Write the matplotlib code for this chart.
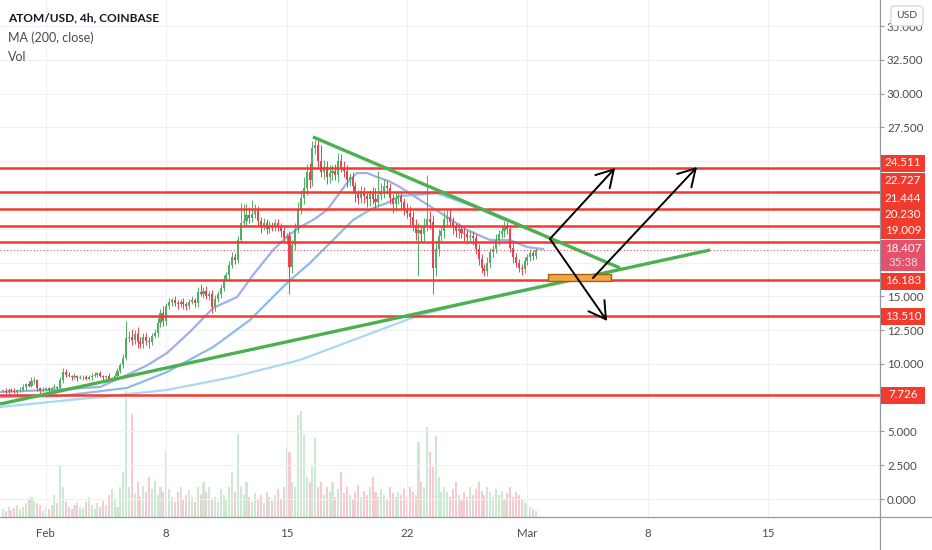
import numpy as np
import matplotlib
matplotlib.use("Agg")
import matplotlib.pyplot as plt
import matplotlib.transforms as mtransforms
from matplotlib.patches import Rectangle, FancyBboxPatch
from matplotlib.lines import Line2D

# ---------------- data ----------------
title = "ATOM/USD, 4h, COINBASE"
legend_lines = ["MA (200, close)", "Vol"]

first_open = 8.0
closes = [
    8.0, 7.9, 8.1, 8.0, 7.95, 8.05, 8.1,
    8.3, 8.5, 8.4, 8.7, 8.8,
    8.2, 8.0,
    8.1, 8.2, 8.1, 8.2, 8.3, 8.2,
    8.8, 9.4,
    9.2, 9.1, 9.0, 9.1, 8.95, 9.0, 9.05, 8.9, 9.0, 9.1,
    9.2, 9.3, 9.1,
    9.0, 9.1, 8.9, 8.9, 9.1,
    9.5, 9.9, 10.4,
    11.9, 12.0,
    11.8, 12.2, 11.6, 11.5, 12.0, 11.7, 11.6, 12.1, 12.3,
    13.0, 13.8, 13.2, 14.3, 14.6,
    14.7, 14.5, 14.4, 14.6, 14.4, 14.3, 14.6, 14.7, 14.5,
    15.3, 15.2, 15.4, 15.0, 15.2, 14.2,
    14.8, 15.2, 15.6,
    16.3, 16.6,
    17.3, 17.9, 17.7,
    19.2, 20.4, 20.6,
    21.0, 20.8, 21.1, 21.3,
    20.6, 20.2, 20.4, 20.0, 20.3, 20.1, 20.4, 20.2,
    19.8, 19.3, 19.5,
    17.2,
    18.8, 20.0, 21.5, 22.3,
    23.0, 24.2,
    23.6, 26.0, 26.2,
    25.0, 24.2, 24.6,
    23.8, 24.1, 24.3,
    24.0, 25.0, 24.6, 24.3,
    23.6, 23.8,
    23.2, 22.6, 22.3, 22.8,
    22.4, 22.2, 22.6, 22.2, 22.0, 22.5,
    22.8, 23.2, 23.0,
    22.3, 21.8,
    22.2, 22.4, 22.0,
    21.5, 21.2, 20.9,
    20.3, 19.7, 19.9,
    19.6, 20.2,
    20.7, 20.5,
    17.1,
    18.5, 19.5, 19.8,
    20.7, 20.9, 20.5,
    20.1, 19.8, 20.0, 19.7, 19.6, 19.4,
    19.5, 19.3,
    18.5, 17.8,
    17.1, 16.9,
    17.5, 18.3, 18.5,
    19.2, 19.6, 19.8,
    20.2, 20.0,
    18.6,
    17.9, 17.5,
    17.1, 17.0,
    17.6, 17.9,
    18.2, 18.0,
    18.407,
]
# wick lengths above / below the candle body, in tenths of a dollar
up_wick = [
    1, 2, 1, 1, 2, 1, 2, 2, 1, 2,
    3, 2, 1, 1, 2, 1, 1, 1, 2, 1,
    2, 3, 2, 2, 1, 2, 1, 2, 1, 1,
    2, 2, 2, 1, 2, 1, 1, 2, 1, 2,
    2, 2, 3, 13, 4, 6, 3, 5, 4, 3,
    3, 3, 2, 3, 4, 3, 5, 2, 3, 2,
    3, 2, 2, 3, 2, 2, 3, 2, 4, 6,
    3, 4, 2, 3, 3, 2, 3, 3, 2, 3,
    4, 3, 3, 15, 12, 8, 6, 10, 5, 4,
    3, 4, 3, 3, 2, 3, 3, 2, 3, 2,
    3, 4, 4, 5, 6, 8, 6, 7, 5, 4,
    6, 12, 5, 4, 6, 4, 5, 6, 5, 4,
    4, 3, 4, 3, 3, 4, 3, 4, 3, 5,
    8, 18, 6, 5, 4, 4, 3, 5, 4, 3,
    3, 4, 5, 4, 4, 5, 4, 6, 33, 6,
    5, 6, 5, 4, 6, 5, 6, 4, 3, 4,
    3, 4, 3, 4, 3, 3, 4, 3, 3, 4,
    3, 3, 4, 3, 3, 4, 3, 3, 4, 3,
    3, 3, 3, 2, 3, 2, 2,
]
down_wick = [
    1, 1, 2, 1, 1, 2, 1, 1, 2, 1,
    1, 2, 2, 2, 1, 1, 2, 1, 1, 2,
    1, 2, 2, 1, 2, 1, 2, 1, 2, 1,
    1, 2, 1, 2, 1, 2, 1, 2, 2, 1,
    1, 2, 2, 1, 3, 4, 3, 4, 3, 3,
    3, 4, 2, 2, 3, 3, 4, 3, 2, 3,
    2, 3, 2, 3, 3, 2, 2, 3, 3, 2,
    3, 2, 3, 4, 3, 2, 3, 2, 2, 3,
    2, 3, 2, 2, 3, 3, 4, 3, 3, 4,
    5, 3, 4, 3, 3, 3, 4, 4, 3, 4,
    20, 5, 4, 3, 4, 5, 5, 6, 4, 5,
    6, 4, 5, 5, 4, 5, 4, 5, 4, 5,
    5, 4, 4, 6, 5, 4, 5, 6, 5, 4,
    5, 4, 4, 5, 4, 5, 6, 5, 4, 5,
    5, 4, 6, 5, 5, 32, 6, 5, 4, 5,
    19, 6, 5, 4, 5, 5, 4, 5, 4, 5,
    4, 5, 5, 4, 5, 4, 5, 4, 4, 4,
    4, 4, 3, 4, 3, 4, 4, 3, 4, 3,
    3, 4, 3, 3, 3, 3, 2,
]
volumes = [
    8, 6, 10, 7, 9, 12, 8, 10, 14,
    18, 20, 16, 14, 12, 6, 9,
    8, 12, 22, 14, 52,
    30, 15, 10, 8, 12, 14, 10,
    9, 15, 20, 12, 8, 14, 10,
    16, 12, 22, 28, 18, 10, 30,
    45, 126, 30, 103, 24,
    35, 20, 31, 25, 40, 28, 36, 22, 30,
    25, 67, 28, 20, 15, 25, 30, 18, 22,
    27, 20, 15, 30, 22, 35, 25, 30, 18,
    20, 15, 28, 22, 18, 30, 45, 25, 83, 30, 22, 35,
    20, 15, 24, 18, 22, 14, 25, 20, 16, 22, 28, 18, 30, 70, 65,
    35, 30, 102, 106, 83, 40, 35, 50, 79, 30, 35,
    22, 30, 25, 35, 20, 28, 45, 24, 30, 22, 18, 25, 32, 20, 26, 22, 30,
    40, 25, 20, 28, 22, 18, 30, 24, 20, 25, 22,
    28, 20, 30, 25, 22, 75, 35, 30, 90, 65, 50, 81, 40, 25,
    30, 25, 20, 28, 35, 22, 18, 25, 20, 30, 22, 28, 35, 26,
    22, 30, 25, 20, 28, 22, 26, 18, 24, 30, 20, 25, 22, 18, 15, 12, 10, 8, 6,
]

# moving averages (day offset from Feb 1, price)
ma_fast_days = [-2.66, 0.24, 3.15, 4.72, 5.9, 7.05, 8.4, 9.73, 11.12, 12.05, 13.21, 14.0, 14.78,
                15.6, 16.35, 17.51, 18.09, 18.67, 19.26, 20.0, 20.59, 21.76, 23.33, 24.49,
                25.83, 26.99, 27.98, 28.91]
ma_fast_vals = [7.92, 8.07, 8.29, 9.18, 9.9, 10.81, 12.4, 14.14, 14.95, 16.58, 18.43, 19.4, 20.13,
                20.7, 21.39, 23.39, 24.13, 24.13, 23.83, 23.5, 23.09, 22.13, 20.87, 19.91,
                19.17, 19.17, 18.65, 18.50]
ma_mid_days = [-2.66, 0.83, 4.72, 7.05, 9.73, 11.87, 14.02, 15.36, 16.70, 17.86, 19.03,
               19.84, 20.59, 22.74, 24.66, 26.41, 28.73]
ma_mid_vals = [7.55, 7.62, 8.22, 9.40, 11.25, 13.25, 15.99, 17.47, 19.17, 20.65, 21.54,
               21.91, 22.43, 22.65, 21.76, 20.80, 19.69]
ma200_days = [-2.66, 3.15, 7.05, 10.88, 14.78, 19.42, 21.76, 24.66, 28.56]
ma200_vals = [6.81, 7.55, 8.07, 9.03, 10.29, 12.51, 13.62, 14.58, 15.62]

level_values = [24.511, 22.727, 21.444, 20.230, 19.009, 16.183, 13.510, 7.726]
last_price = 18.407
countdown = "35:38"

desc_line_days = [15.53, 33.38]
desc_line_vals = [26.80, 17.10]
rise_line_days = [-2.66, 38.62]
rise_line_vals = [7.03, 18.43]

zone_days = [29.20, 32.86]
zone_vals = [16.14, 16.65]

arrow_from_days = [29.31, 29.31, 31.81]
arrow_from_vals = [19.25, 19.25, 16.36]
arrow_to_days = [33.10, 32.63, 37.86]
arrow_to_vals = [24.50, 13.18, 24.57]

date_tick_days = [0, 7, 14, 21, 28, 35, 42]
date_tick_labels = ["Feb", "8", "15", "22", "Mar", "8", "15"]
price_ticks = [0.0, 2.5, 5.0, 7.5, 10.0, 12.5, 15.0, 17.5, 20.0, 22.5, 25.0, 27.5, 30.0, 32.5, 35.0]
# tick labels hidden behind the price-label boxes on the scale
hidden_tick_labels = [7.5, 17.5, 20.0, 22.5, 25.0]

# ---------------- figure ----------------
plt.rcParams['font.family'] = ['Lato', 'DejaVu Sans']
W, H, DPI = 932, 550, 100
fig = plt.figure(figsize=(W / DPI, H / DPI), dpi=DPI)
fig.patch.set_facecolor("white")

AX_RIGHT = 880
AX_BOTTOM = 517
rect = [0, (H - AX_BOTTOM) / H, AX_RIGHT / W, AX_BOTTOM / H]
XLIM = (-2.663, 48.50)
YLIM = (-1.332, 36.935)

UP = "#4cb163"
DOWN = "#e8414f"
RED = "#f23b2f"
GREEN = "#4caf50"

# volume axes (behind)
axv = fig.add_axes(rect, zorder=0)
axv.set_xlim(*XLIM)
axv.set_ylim(0, AX_BOTTOM)
axv.axis("off")

ax = fig.add_axes(rect, zorder=1)
ax.set_facecolor("none")
ax.set_xlim(*XLIM)
ax.set_ylim(*YLIM)

n = len(closes)
cx = -2.5 + np.arange(n) / 6.0
c = np.array(closes)
o = np.array([first_open] + closes[:-1])
hi = np.maximum(o, c) + np.array(up_wick) / 10.0
lo = np.minimum(o, c) - np.array(down_wick) / 10.0
is_up = c >= o
cols = np.where(is_up, UP, DOWN)

vcols = [(0.30, 0.69, 0.39, 0.28) if u else (0.91, 0.25, 0.31, 0.28) for u in is_up]
axv.bar(cx, volumes, width=0.12, bottom=0, color=vcols, linewidth=0)

# grid
ax.set_yticks(price_ticks)
ax.set_xticks(date_tick_days)
ax.grid(True, color="#eef0f3", lw=0.8, zorder=0)
ax.set_axisbelow(True)

# moving averages
ax.plot(ma200_days, ma200_vals, color="#a8d8f2", lw=1.6, zorder=2)
ax.plot(ma_mid_days, ma_mid_vals, color="#8dbbe8", lw=1.6, zorder=2)
ax.plot(ma_fast_days, ma_fast_vals, color="#9fb0e6", lw=1.6, zorder=2)

# candles
ax.vlines(cx, lo, hi, colors=cols, lw=0.7, zorder=3)
body = np.where(np.abs(c - o) < 0.04, 0.04, c - o)
ax.bar(cx, body, bottom=o, width=0.12, color=cols, linewidth=0, zorder=3)

# last price dotted line
ax.axhline(last_price, color="#e5506a", lw=0.8, ls=(0, (1, 2)), zorder=3)

# horizontal red levels
for lv in level_values:
    ax.axhline(lv, color=RED, lw=1.8, zorder=5)

# trend lines
ax.plot(desc_line_days, desc_line_vals, color=GREEN, lw=2.4, zorder=6, solid_capstyle="butt")
ax.plot(rise_line_days, rise_line_vals, color=GREEN, lw=2.4, zorder=6, solid_capstyle="butt")

# orange zone
ax.add_patch(Rectangle((zone_days[0], zone_vals[0]), zone_days[1] - zone_days[0],
                       zone_vals[1] - zone_vals[0], facecolor="#f5a543",
                       edgecolor="#9c6418", lw=1.0, zorder=7))

# arrows
for x0, y0, x1, y1 in zip(arrow_from_days, arrow_from_vals, arrow_to_days, arrow_to_vals):
    ax.annotate("", xy=(x1, y1), xytext=(x0, y0),
                arrowprops=dict(arrowstyle="->,head_length=1.2,head_width=0.7",
                                color="black", lw=1.4, shrinkA=0, shrinkB=0),
                zorder=8)

# axes styling
for s in ["top", "left", "right", "bottom"]:
    ax.spines[s].set_visible(False)
ax.yaxis.tick_right()
ax.set_yticklabels(["" if v in hidden_tick_labels else f"{v:.3f}" for v in price_ticks])
ax.tick_params(axis="y", length=3, width=0.8, color="#9598a1", pad=2,
               labelsize=8.3, labelcolor="#4a4a4a")
ax.set_xticklabels(date_tick_labels)
ax.tick_params(axis="x", length=0, pad=8, labelsize=8.3, labelcolor="#4a4a4a")

# pixel transform (origin top-left)
px = mtransforms.Affine2D().scale(1.0 / W, -1.0 / H).translate(0, 1) + fig.transFigure

# axis lines
fig.add_artist(Line2D([AX_RIGHT, AX_RIGHT], [0, H], transform=px, color="#9598a1", lw=0.9))
fig.add_artist(Line2D([0, W], [AX_BOTTOM, AX_BOTTOM], transform=px, color="#9598a1", lw=0.9))

# price labels on the scale
label_centers = [163, 181, 198, 214, 230, 281, 316, 395]
for lv, yc in zip(level_values, label_centers):
    fig.add_artist(Rectangle((881, yc - 8.5), 44, 17, transform=px, facecolor=RED,
                             edgecolor="none", zorder=10))
    fig.text(903, yc, f"{lv:.3f}", transform=px, ha="center", va="center",
             color="white", fontsize=8.3, zorder=11)

fig.add_artist(Rectangle((881, 240), 44, 31, transform=px, facecolor="#e5506a",
                         edgecolor="none", zorder=10))
fig.text(903, 248.5, f"{last_price:.3f}", transform=px, ha="center", va="center",
         color="white", fontsize=8.3, zorder=11)
fig.text(903, 263, countdown, transform=px, ha="center", va="center",
         color="#fbdde3", fontsize=8.3, zorder=11)

# USD box
fig.add_artist(FancyBboxPatch((891, 6), 32, 20, boxstyle="round,pad=0,rounding_size=3",
                              transform=px, facecolor="white", edgecolor="#d1d4dc",
                              lw=0.9, zorder=10))
fig.text(907, 16, "USD", transform=px, ha="center", va="center",
         color="#4a4a4a", fontsize=7.5, zorder=11)

# legend texts
fig.text(8, 18, title, transform=px, ha="left", va="center", color="#131722",
         fontsize=8.6, fontweight="bold")
fig.text(8, 38, legend_lines[0], transform=px, ha="left", va="center",
         color="#4a4a4a", fontsize=9)
fig.text(8, 57, legend_lines[1], transform=px, ha="left", va="center",
         color="#4a4a4a", fontsize=9)

fig.savefig("out.png", dpi=DPI, facecolor="white")
